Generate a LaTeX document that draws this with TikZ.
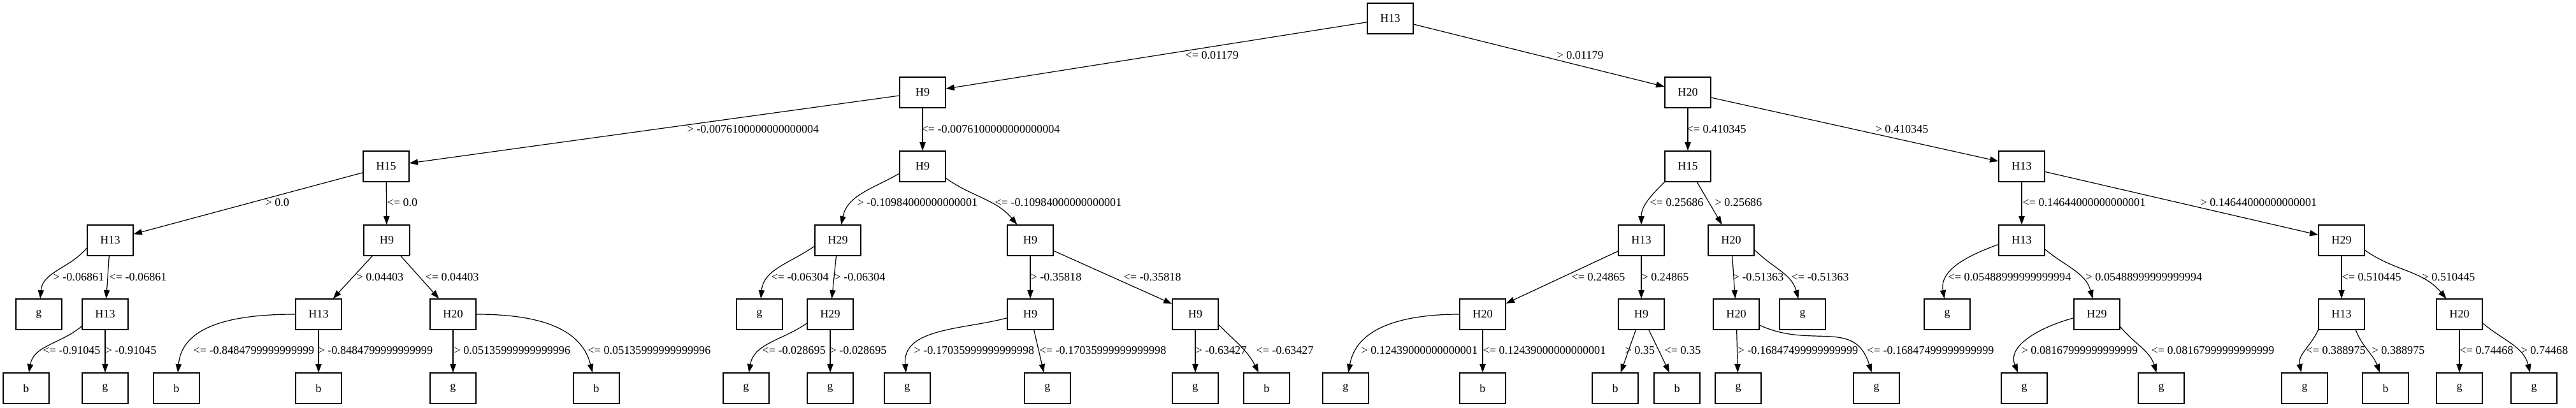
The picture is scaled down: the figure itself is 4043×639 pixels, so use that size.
\documentclass[tikz,border=0pt]{standalone}
\usepackage{fontspec}
\setmainfont{Liberation Serif}
\usetikzlibrary{arrows.meta}

\begin{document}
\begin{tikzpicture}[x=0.75pt,y=0.75pt]
  \tikzset{
    attr/.style={draw,rectangle,minimum width=54pt,minimum height=36pt,inner sep=0pt,line width=0.9pt,font=\fontsize{13.6}{16}\selectfont},
    leaf/.style={attr},
    branch/.style={line width=0.9pt,-{Triangle[length=10pt,width=7pt]}},
    cond/.style={anchor=west,inner sep=0pt,font=\fontsize{13.6}{16}\selectfont}
  }
  \useasboundingbox (0,0) rectangle (4043,639);

  \node[attr] (t) at (2182,610) {H13};

  \node[attr] (tl) at (1448,494) {H9};
  \node[attr] (tr) at (2649,494) {H20};

  \node[attr] (tll) at (606,378) {H15};
  \node[attr] (tlr) at (1448,378) {H9};
  \node[attr] (trl) at (2649,378) {H15};
  \node[attr] (trr) at (3173,378) {H13};

  \node[attr] (tlll) at (173,262) {H13};
  \node[attr] (tllr) at (607,262) {H9};
  \node[attr] (tlrl) at (1315,262) {H29};
  \node[attr] (tlrr) at (1617,262) {H9};
  \node[attr] (trll) at (2576,262) {H13};
  \node[attr] (trlr) at (2717,262) {H20};
  \node[attr] (trrl) at (3173,262) {H13};
  \node[attr] (trrr) at (3675,262) {H29};

  \node[leaf] (tllll) at (61,146) {g};
  \node[attr] (tlllr) at (165,146) {H13};
  \node[attr] (tllrl) at (500,146) {H13};
  \node[attr] (tllrr) at (711,146) {H20};
  \node[leaf] (tlrll) at (1192,146) {g};
  \node[attr] (tlrlr) at (1303,146) {H29};
  \node[attr] (tlrrl) at (1617,146) {H9};
  \node[attr] (tlrrr) at (1876,146) {H9};
  \node[attr] (trlll) at (2327,146) {H20};
  \node[attr] (trllr) at (2576,146) {H9};
  \node[attr] (trlrl) at (2725,146) {H20};
  \node[leaf] (trlrr) at (2829,146) {g};
  \node[leaf] (trrll) at (3056,146) {g};
  \node[attr] (trrlr) at (3291,146) {H29};
  \node[attr] (trrrl) at (3675,146) {H13};
  \node[attr] (trrrr) at (3860,146) {H20};

  \node[leaf] (tlllrl) at (41,30) {b};
  \node[leaf] (tlllrr) at (165,30) {g};
  \node[leaf] (tllrll) at (277,30) {b};
  \node[leaf] (tllrlr) at (500,30) {b};
  \node[leaf] (tllrrl) at (711,30) {g};
  \node[leaf] (tllrrr) at (936,30) {b};
  \node[leaf] (tlrlrl) at (1171,30) {g};
  \node[leaf] (tlrlrr) at (1303,30) {g};
  \node[leaf] (tlrrll) at (1424,30) {g};
  \node[leaf] (tlrrlr) at (1644,30) {g};
  \node[leaf] (tlrrrl) at (1876,30) {g};
  \node[leaf] (tlrrrr) at (1988,30) {b};
  \node[leaf] (trllll) at (2112,30) {g};
  \node[leaf] (trlllr) at (2327,30) {b};
  \node[leaf] (trllrl) at (2535,30) {b};
  \node[leaf] (trllrr) at (2632,30) {b};
  \node[leaf] (trlrll) at (2728,30) {g};
  \node[leaf] (trlrlr) at (2945,30) {g};
  \node[leaf] (trrlrl) at (3177,30) {g};
  \node[leaf] (trrlrr) at (3392,30) {g};
  \node[leaf] (trrrll) at (3617,30) {g};
  \node[leaf] (trrrlr) at (3744,30) {b};
  \node[leaf] (trrrrl) at (3860,30) {g};
  \node[leaf] (trrrrr) at (3977,30) {g};

  \draw[branch] (t) -- (tl) node[cond] at (1860,552) {<= 0.01179};
  \draw[branch] (t) -- (tr) node[cond] at (2443,552) {> 0.01179};

  \draw[branch] (tl) -- (tll) node[cond] at (1078,436) {> -0.0076100000000000004};
  \draw[branch] (tl) -- (tlr) node[cond] at (1446,436) {<= -0.0076100000000000004};
  \draw[branch] (tr) -- (trl) node[cond] at (2647,436) {<= 0.410345};
  \draw[branch] (tr) -- (trr) node[cond] at (2943,436) {> 0.410345};

  \draw[branch] (tll) -- (tlll) node[cond] at (416,321) {> 0.0};
  \draw[branch] (tll) -- (tllr) node[cond] at (607,321) {<= 0.0};
  \draw[branch] (tlr.197) to[out=210,in=78] (tlrl) node[cond] at (1345,321) {> -0.10984000000000001};
  \draw[branch] (tlr.333) to[out=-35,in=130] (tlrr) node[cond] at (1561,321) {<= -0.10984000000000001};
  \draw[branch] (trl.south west) to[out=225,in=90] (trll) node[cond] at (2589,321) {<= 0.25686};
  \draw[branch] (trl) -- (trlr) node[cond] at (2691,321) {> 0.25686};
  \draw[branch] (trr) -- (trrl) node[cond] at (3174,321) {<= 0.14644000000000001};
  \draw[branch] (trr) -- (trrr) node[cond] at (3453,321) {> 0.14644000000000001};

  \draw[branch] (tlll.198) to[out=230,in=85] (tllll) node[cond] at (83,204) {> -0.06861};
  \draw[branch] (tlll) -- (tlllr) node[cond] at (171,204) {<= -0.06861};
  \draw[branch] (tllr) -- (tllrl) node[cond] at (559,204) {> 0.04403};
  \draw[branch] (tllr) -- (tllrr) node[cond] at (667,204) {<= 0.04403};
  \draw[branch] (tlrl.194) to[out=215,in=85] (tlrll) node[cond] at (1210,204) {<= -0.06304};
  \draw[branch] (tlrl) -- (tlrlr) node[cond] at (1309,204) {> -0.06304};
  \draw[branch] (tlrr) -- (tlrrl) node[cond] at (1617,204) {> -0.35818};
  \draw[branch] (tlrr) -- (tlrrr) node[cond] at (1763,204) {<= -0.35818};
  \draw[branch] (trll) -- (trlll) node[cond] at (2466,204) {<= 0.24865};
  \draw[branch] (trll) -- (trllr) node[cond] at (2576,204) {> 0.24865};
  \draw[branch] (trlr) -- (trlrl) node[cond] at (2719,204) {> -0.51363};
  \draw[branch] (trlr.338) to[out=-45,in=105] (trlrr) node[cond] at (2811,204) {<= -0.51363};
  \draw[branch] (trrl.190) to[out=200,in=100] (trrll) node[cond] at (3057,204) {<= 0.05488999999999994};
  \draw[branch] (trrl.339) to[out=-40,in=105] (trrlr) node[cond] at (3273,204) {> 0.05488999999999994};
  \draw[branch] (trrr) -- (trrrl) node[cond] at (3675,204) {<= 0.510445};
  \draw[branch] (trrr.337) to[out=-35,in=130] (trrrr) node[cond] at (3801,204) {> 0.510445};

  \draw[branch] (tlllr.207) to[out=220,in=80] (tlllrl) node[cond] at (67,89) {<= -0.91045};
  \draw[branch] (tlllr) -- (tlllrr) node[cond] at (165,89) {> -0.91045};
  \draw[branch] (tllrl.west) to[out=180,in=85] (tllrll) node[cond] at (303,89) {<= -0.8484799999999999};
  \draw[branch] (tllrl) -- (tllrlr) node[cond] at (499,89) {> -0.8484799999999999};
  \draw[branch] (tllrr) -- (tllrrl) node[cond] at (712,89) {> 0.05135999999999996};
  \draw[branch] (tllrr.east) to[out=0,in=104] (tllrrr) node[cond] at (922,89) {<= 0.05135999999999996};
  \draw[branch] (tlrlr.201) to[out=215,in=80] (tlrlrl) node[cond] at (1196,89) {<= -0.028695};
  \draw[branch] (tlrlr) -- (tlrlrr) node[cond] at (1302,89) {> -0.028695};
  \draw[branch] (tlrrl.189) to[out=195,in=95] (tlrrll) node[cond] at (1434,89) {> -0.17035999999999998};
  \draw[branch] (tlrrl) -- (tlrrlr) node[cond] at (1631,89) {<= -0.17035999999999998};
  \draw[branch] (tlrrr) -- (tlrrrl) node[cond] at (1876,89) {> -0.63427};
  \draw[branch] (tlrrr.336) to[out=-45,in=117] (tlrrrr) node[cond] at (1971,89) {<= -0.63427};
  \draw[branch] (trlll.west) to[out=180,in=80] (trllll) node[cond] at (2136,89) {> 0.12439000000000001};
  \draw[branch] (trlll) -- (trlllr) node[cond] at (2327,89) {<= 0.12439000000000001};
  \draw[branch] (trllr) -- (trllrl) node[cond] at (2550,89) {> 0.35};
  \draw[branch] (trllr) -- (trllrr) node[cond] at (2612,89) {<= 0.35};
  \draw[branch] (trlrl) -- (trlrll) node[cond] at (2727,89) {> -0.16847499999999999};
  \draw[branch] (trlrl.335) to[out=-25,in=107,looseness=1.2] (trlrlr) node[cond] at (2930,89) {<= -0.16847499999999999};
  \draw[branch] (trrlr.189) to[out=195,in=112] (trrlrl) node[cond] at (3172,89) {> 0.08167999999999999};
  \draw[branch] (trrlr.332) to[out=-50,in=107] (trrlrr) node[cond] at (3376,89) {<= 0.08167999999999999};
  \draw[branch] (trrrl.south west) to[out=245,in=102] (trrrll) node[cond] at (3619,89) {<= 0.388975};
  \draw[branch] (trrrl.312) to[out=-68,in=110] (trrrlr) node[cond] at (3722,89) {> 0.388975};
  \draw[branch] (trrrr) -- (trrrrl) node[cond] at (3860,89) {<= 0.74468};
  \draw[branch] (trrrr.339) to[out=-40,in=104] (trrrrr) node[cond] at (3956,89) {> 0.74468};
\end{tikzpicture}
\end{document}
